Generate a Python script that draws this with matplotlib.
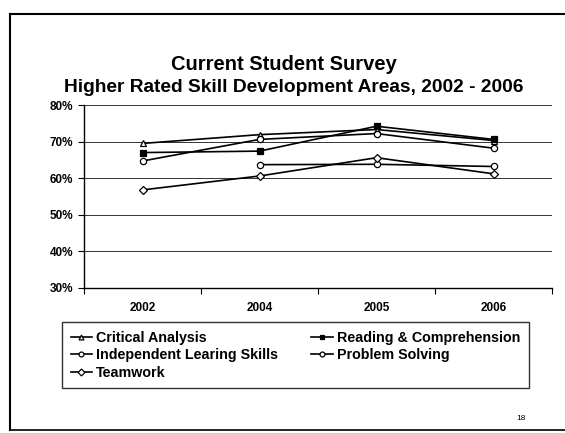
import numpy as np
import matplotlib
matplotlib.use("Agg")
import matplotlib.pyplot as plt
from matplotlib.lines import Line2D

plt.rcParams['font.family'] = ['Liberation Sans', 'DejaVu Sans']

years = ["2002", "2004", "2005", "2006"]
critical_analysis = [69.5, 71.9, 73.3, 70.3]
reading_comprehension = [67.0, 67.4, 74.2, 70.6]
independent_learning = [64.7, 70.6, 72.2, 68.2]
problem_solving = [np.nan, 63.7, 63.8, 63.2]
teamwork = [56.8, 60.6, 65.6, 61.2]
yticks = [30, 40, 50, 60, 70, 80]

fig = plt.figure(figsize=(5.65, 4.33), dpi=100)
W, H = 565, 433
ax = fig.add_axes([84 / W, 1 - 288 / H, (552 - 84) / W, (288 - 105) / H])

x = np.arange(len(years))
common = dict(color='black', lw=1.2, markersize=4.5, markeredgewidth=0.9)
h_ca, = ax.plot(x, critical_analysis, marker='^', mfc='white', mec='black', label='Critical Analysis', **common)
h_rc, = ax.plot(x, reading_comprehension, marker='s', mfc='black', mec='black', label='Reading & Comprehension', **common)
h_il, = ax.plot(x, independent_learning, marker='o', mfc='white', mec='black', label='Independent Learing Skills', **common)
h_ps, = ax.plot(x, problem_solving, marker='o', mfc='white', mec='black', label='Problem Solving', **common)
h_tw, = ax.plot(x, teamwork, marker='D', mfc='white', mec='black', label='Teamwork', markersize=4, color='black', lw=1.2, markeredgewidth=0.9)

ax.set_xlim(-0.5, 3.5)
ax.set_ylim(30, 80)
ax.set_yticks(yticks)
ax.set_yticklabels([f"{v}%" for v in yticks], fontsize=8.5, fontweight='bold')
ax.yaxis.grid(True, color='#333333', lw=0.7)
ax.set_axisbelow(True)

ax.set_xticks(x)
ax.set_xticklabels(years, fontsize=8.5, fontweight='bold')
ax.tick_params(axis='x', length=0, pad=10)
ax.set_xticks(np.arange(-0.5, 4.0, 1.0), minor=True)
ax.tick_params(axis='x', which='minor', length=4, direction='out', width=0.8)
ax.tick_params(axis='y', length=4, width=0.8, pad=4)
for s in ['top', 'right']:
    ax.spines[s].set_visible(False)
ax.spines['left'].set_linewidth(1.0)
ax.spines['bottom'].set_linewidth(1.0)

fig.text(284 / W, 1 - 65 / H, "Current Student Survey", ha='center', va='center',
         fontsize=14.5, fontweight='bold')
fig.text(294 / W, 1 - 88 / H, "Higher Rated Skill Development Areas, 2002 - 2006",
         ha='center', va='center', fontsize=13.8, fontweight='bold')

handles = [h_ca, h_il, h_tw, h_rc, h_ps]
leg = fig.legend(handles=handles, labels=[h.get_label() for h in handles],
                 ncol=2, loc='upper left', bbox_to_anchor=(62 / W, 1 - 322 / H),
                 prop={'weight': 'bold', 'size': 10.3},
                 frameon=True, fancybox=False, edgecolor='black',
                 handlelength=1.5, handletextpad=0.3, columnspacing=2.3,
                 labelspacing=0.25, borderpad=0.6, borderaxespad=0)
leg.get_frame().set_linewidth(1.0)
for lh in leg.legend_handles:
    lh.set_markersize(3.5)

# page border
fig.add_artist(Line2D([10 / W, 10 / W], [1 - 430 / H, 1 - 14 / H], transform=fig.transFigure, color='black', lw=1.5))
fig.add_artist(Line2D([10 / W, 1.0], [1 - 14 / H, 1 - 14 / H], transform=fig.transFigure, color='black', lw=1.5))
fig.add_artist(Line2D([10 / W, 1.0], [1 - 430 / H, 1 - 430 / H], transform=fig.transFigure, color='black', lw=1.2))

fig.text(521 / W, 1 - 418 / H, "18", ha='center', va='center', fontsize=6)

fig.savefig("out.png", dpi=100)
